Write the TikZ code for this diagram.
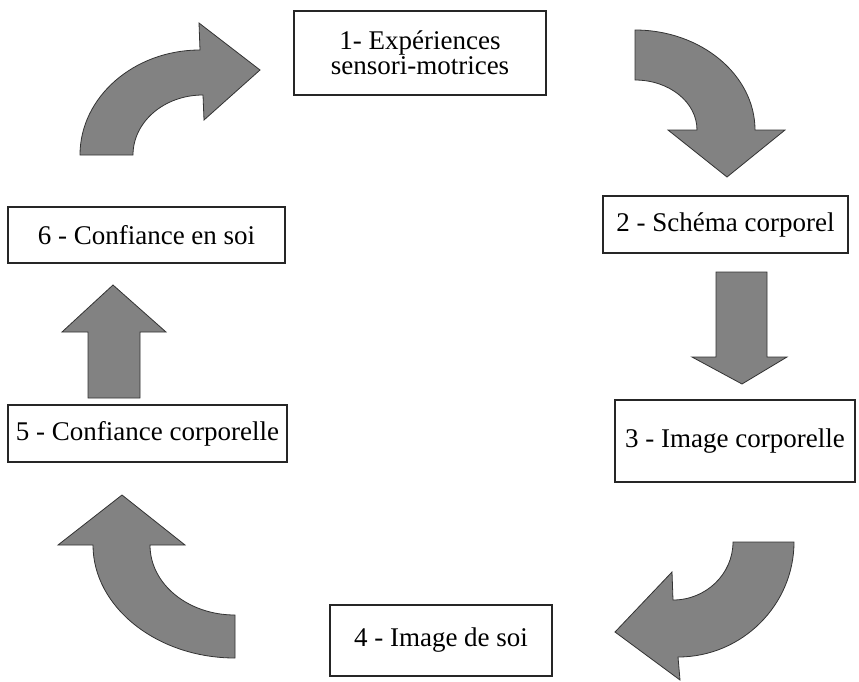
\documentclass[tikz,border=0pt]{standalone}
\usepackage{fontspec}
\setmainfont{Liberation Serif}
\definecolor{arrowgray}{RGB}{130,130,130}
\tikzset{
  box/.style={draw=black!85, line width=1.3pt, fill=white, rectangle, inner sep=0pt, align=center, font=\fontsize{27}{25}\selectfont},
  bigarrow/.style={fill=arrowgray, draw=black!80, line width=0.8pt, line join=miter}
}
\begin{document}
\begin{tikzpicture}[x=1pt,y=-1pt]
\useasboundingbox (0,0) rectangle (859,681);
% boxes
\node[box, minimum width=252pt, minimum height=84pt] (b1) at (420,53) {1- Expériences\\sensori-motrices};
\node[box, minimum width=245pt, minimum height=57pt] (b2) at (725.5,224.5) {2 - Schéma corporel};
\node[box, minimum width=240pt, minimum height=82pt] (b3) at (735,441) {3 - Image corporelle};
\node[box, minimum width=222pt, minimum height=71pt] (b4) at (441,640.5) {4 - Image de soi};
\node[box, minimum width=279pt, minimum height=57pt] (b5) at (147.5,433.5) {5 - Confiance corporelle};
\node[box, minimum width=277pt, minimum height=56pt] (b6) at (146.5,235) {6 - Confiance en soi};
% arrow 1 (top left, curved)
\draw[bigarrow] (80,155) .. controls (80,97) and (134,50) .. (200,50) -- (199,23) -- (260,70) -- (204,120) -- (203,95) .. controls (164,95) and (133,122) .. (133,155) -- cycle;
% arrow 2 (top right, curved)
\draw[bigarrow] (635,30) .. controls (701,30) and (755,75) .. (755,130) -- (785,130) -- (727,177) -- (668,130) -- (697,130) .. controls (697,102) and (669,80) .. (635,80) -- cycle;
% arrow 3 (down)
\draw[bigarrow] (716,272) -- (767,272) -- (767,357) -- (787,357) -- (742,384) -- (692,357) -- (716,357) -- cycle;
% arrow 4 (bottom right, curved)
\draw[bigarrow] (733,542) -- (794,542) .. controls (794,605) and (742,657) .. (678,657) -- (680,680) -- (615,632) -- (672,572) -- (673,600) .. controls (706,600) and (733,574) .. (733,542) -- cycle;
% arrow 5 (bottom left, curved)
\draw[bigarrow] (235,658) .. controls (157,658) and (93,607) .. (93,545) -- (58,545) -- (122,495) -- (185,545) -- (150,545) .. controls (150,584) and (188,615) .. (235,615) -- cycle;
% arrow 6 (up)
\draw[bigarrow] (88,398) -- (88,332) -- (62,332) -- (113,285) -- (166,332) -- (140,332) -- (140,398) -- cycle;
\end{tikzpicture}
\end{document}
